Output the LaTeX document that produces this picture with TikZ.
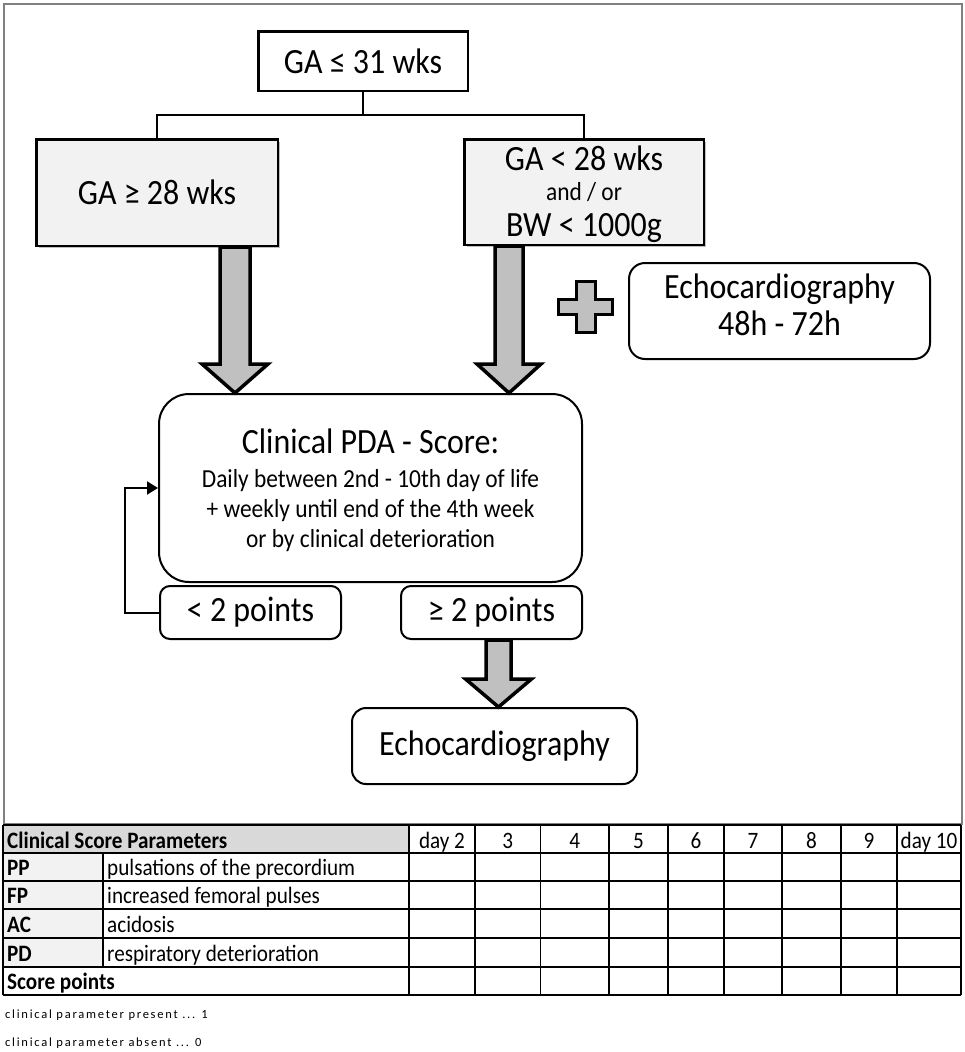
\documentclass[tikz,border=0pt]{standalone}
\usepackage{fontspec}
\setmainfont{Carlito}
\newfontfamily\tallfont[FakeStretch=0.9]{Carlito}
\newfontfamily\footfont[LetterSpace=14]{Carlito}
\usetikzlibrary{arrows.meta,calc,shadows}
\definecolor{boxgray}{HTML}{F2F2F2}
\definecolor{arrowgray}{HTML}{C0C0C0}
\definecolor{headgray}{HTML}{D9D9D9}
\definecolor{framegray}{HTML}{808080}
\begin{document}
\begin{tikzpicture}[x=1pt,y=-1pt,
  sqbox/.style={draw=black, line width=2.5pt, inner sep=0pt, font=\tallfont\fontsize{35.5}{40}\selectfont},
  graybox/.style={sqbox, fill=boxgray, drop shadow={shadow xshift=2.5pt, shadow yshift=-2.5pt, opacity=0.25, fill=black}},
  rbox/.style={draw=black, line width=2pt, inner sep=0pt, fill=white, font=\tallfont\fontsize{35.5}{40}\selectfont},
  conn/.style={draw=black, line width=2pt},
  blk/.style={draw=black, fill=arrowgray, line width=3.5pt, line join=miter},
  lbl/.style={inner sep=0pt, anchor=base},
  fbig/.style={font=\tallfont\fontsize{35.5}{40}\selectfont},
  fmid/.style={font=\tallfont\fontsize{26}{30}\selectfont},
  fsmall/.style={font=\tallfont\fontsize{26}{30}\selectfont},
  tab/.style={inner sep=0pt, font=\tallfont\fontsize{23.5}{27}\selectfont},
  tabb/.style={inner sep=0pt, font=\tallfont\fontsize{23.5}{27}\selectfont\bfseries},
  foot/.style={inner sep=0pt, anchor=base west, font=\fontsize{12.5}{15}\footfont}
]
\useasboundingbox (0,0) rectangle (965,1052);
\fill[white] (0,0) rectangle (965,1052);

% outer frame
\draw[framegray, line width=2pt] (4,4) rectangle (962,824);

% top level boxes
\node[sqbox, fill=white, minimum width=209.5pt, minimum height=59.5pt] (top) at (363,61) {GA ≤ 31 wks};
\node[graybox, minimum width=241.5pt, minimum height=106.5pt] (L) at (157,192.5) {GA ≥ 28 wks};
\node[graybox, minimum width=239.5pt, minimum height=105.5pt] (R) at (584,192) {};
\node[lbl, fbig] (R1) at (584,170) {GA < 28 wks};
\node[lbl, fmid] (R2) at (584,200) {and / or};
\node[lbl, fbig] (R3) at (584,236) {BW < 1000g};

\draw[conn] (top.south) -- ++(0,23) -| (L.north);
\draw[conn] (top.south) -- ++(0,23) -| (R.north);

% plus sign
\def\cx{585.5}\def\cy{307}
\draw[blk, line width=3pt] (\cx-9.5,\cy-25.5) -- (\cx+9.5,\cy-25.5) -- (\cx+9.5,\cy-7.5) -- (\cx+27,\cy-7.5)
  -- (\cx+27,\cy+7.5) -- (\cx+9.5,\cy+7.5) -- (\cx+9.5,\cy+25.5) -- (\cx-9.5,\cy+25.5) -- (\cx-9.5,\cy+7.5)
  -- (\cx-27,\cy+7.5) -- (\cx-27,\cy-7.5) -- (\cx-9.5,\cy-7.5) -- cycle;

% echocardiography 48-72h
\node[rbox, rounded corners=16pt, minimum width=301pt, minimum height=96pt] (E1) at (779.5,311) {};
\node[lbl, fbig] (E1a) at (779.5,298) {Echocardiography};
\node[lbl, fbig] (E1b) at (779.5,335) {48h - 72h};

% clinical score box
\node[rbox, rounded corners=30pt, minimum width=423pt, minimum height=188pt] (C) at (370.5,488) {};
\node[lbl, fbig] (C1) at (370.5,453) {Clinical PDA - Score:};
\node[lbl, fsmall] (C2) at (370.5,487) {Daily between 2nd - 10th day of life};
\node[lbl, fsmall] (C3) at (370.5,517) {+ weekly until end of the 4th week};
\node[lbl, fsmall] (C4) at (370.5,547) {or by clinical deterioration};

% points boxes
\node[rbox, rounded corners=10pt, minimum width=181pt, minimum height=53pt] (lt) at (250.5,612.5) {< 2 points};
\node[rbox, rounded corners=10pt, minimum width=181pt, minimum height=53pt] (gt) at (491.5,612.5) {≥ 2 points};

% final echo
\node[rbox, rounded corners=14pt, minimum width=285pt, minimum height=76pt] (E2) at (494.5,746) {Echocardiography};

% block arrows
\coordinate (t1) at ($(C.north)+(-135.5,0)$);
\draw[blk] ($(t1 |- L.south)+(-15,0)$) -- ($(t1)+(-15,-29)$) -- ($(t1)+(-33,-29)$) -- (t1)
  -- ($(t1)+(33,-29)$) -- ($(t1)+(15,-29)$) -- ($(t1 |- L.south)+(15,0)$) -- cycle;
\coordinate (t2) at ($(C.north)+(138.5,0)$);
\draw[blk] ($(t2 |- R.south)+(-14,0)$) -- ($(t2)+(-14,-29)$) -- ($(t2)+(-32,-29)$) -- (t2)
  -- ($(t2)+(32,-29)$) -- ($(t2)+(14,-29)$) -- ($(t2 |- R.south)+(14,0)$) -- cycle;
\coordinate (t3) at ($(E2.north)+(4,0)$);
\draw[blk] ($(t3 |- gt.south)+(-12.5,0)$) -- ($(t3)+(-12.5,-28)$) -- ($(t3)+(-33,-28)$) -- (t3)
  -- ($(t3)+(33,-28)$) -- ($(t3)+(12.5,-28)$) -- ($(t3 |- gt.south)+(12.5,0)$) -- cycle;

% loop back
\draw[conn, -{Triangle[length=11pt,width=13pt]}] (lt.west) -- ++(-34,0) |- (C.west);

% table
\fill[headgray] (3,825) rectangle (409,853);
\fill[boxgray] (3,853) rectangle (103,967);
\foreach \yy in {825,853,881,909,938,967,995} \draw[black, line width=1.5pt] (3,\yy) -- (961,\yy);
\foreach \xx in {3,409,475,540.5,609,668,724,782,841,897,961} \draw[black, line width=1.5pt] (\xx,825) -- (\xx,995);
\draw[black, line width=1.5pt] (103,853) -- (103,967);

\node[tabb, anchor=base west] (th) at (7,848) {Clinical Score Parameters};
\foreach \a/\b/\t [count=\i] in {409/475/day 2, 475/540.5/3, 540.5/609/4, 609/668/5, 668/724/6, 724/782/7, 782/841/8, 841/897/9, 897/961/day 10}
  \node[tab, anchor=base] (d\i) at ({(\a+\b)/2},848) {\t};
\node[tabb, anchor=base west] (pp) at (7,875) {PP};
\node[tab, anchor=base west] (ppt) at (107,875) {pulsations of the precordium};
\node[tabb, anchor=base west] (fp) at (7,903) {FP};
\node[tab, anchor=base west] (fpt) at (107,903) {increased femoral pulses};
\node[tabb, anchor=base west] (ac) at (7,932) {AC};
\node[tab, anchor=base west] (act) at (107,932) {acidosis};
\node[tabb, anchor=base west] (pd) at (7,961) {PD};
\node[tab, anchor=base west] (pdt) at (107,961) {respiratory deterioration};
\node[tabb, anchor=base west] (sp) at (7,989) {Score points};

\node[foot] (f1) at (5,1018) {clinical parameter present ... 1};
\node[foot] (f2) at (5,1046) {clinical parameter absent ... 0};
\end{tikzpicture}
\end{document}
